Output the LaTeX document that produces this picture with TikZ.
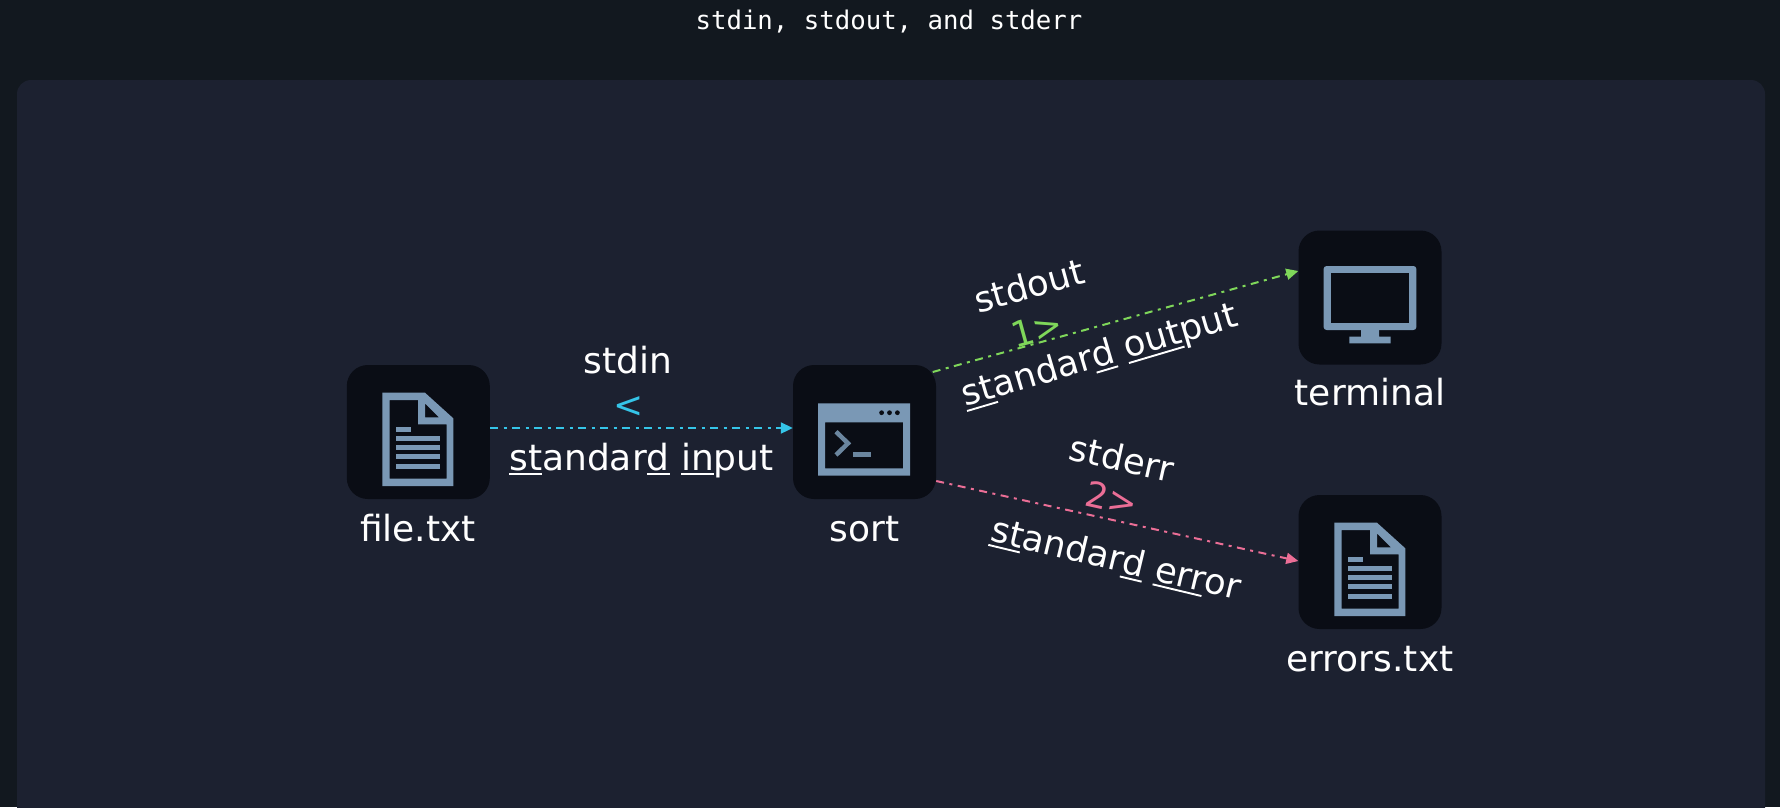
\documentclass[tikz,border=0pt]{standalone}
\usepackage{fontspec}
\setmainfont{DejaVu Sans}
\setmonofont{DejaVu Sans Mono}
\usetikzlibrary{arrows.meta,calc}
\definecolor{pagebg}{HTML}{12181F}
\definecolor{panelbg}{HTML}{1C2130}
\definecolor{boxbg}{HTML}{0A0D15}
\definecolor{iconc}{HTML}{7A98B5}
\definecolor{inc}{HTML}{35C5E8}
\definecolor{outc}{HTML}{7FD75A}
\definecolor{errc}{HTML}{EB6E96}
\newcommand\ulp[1]{\setbox0\hbox{#1}\rlap{\rule[-5.2pt]{\wd0}{1.9pt}}\box0\relax}
\newcommand\fileicon{%
  \fill[iconc,even odd rule] (382.3,392.7) -- (425,392.7) -- (453.3,418.3) -- (453.3,486) -- (382.3,486) -- cycle
    (389.5,400) -- (418,400) -- (418,424.3) -- (446.7,424.3) -- (446.7,478.7) -- (389.5,478.7) -- cycle
    (425,403.3) -- (439,417.3) -- (425,417.3) -- cycle;
  \fill[iconc] (396,426.7) rectangle (411,431.7);
  \foreach \yy in {438.5,447.7,456.8,466.2} \fill[iconc] (396,\yy-2.45) rectangle (440,\yy+2.45);
}
\tikzset{
  iconbox/.style={fill=boxbg,rounded corners=21pt,minimum width=143pt,minimum height=134pt,inner sep=0pt,draw=none},
  lbl/.style={text=white,font=\fontsize{36}{36}\selectfont,inner sep=0pt},
  rlbl/.style={text=white,font=\fontsize{35.4}{36}\selectfont,inner sep=0pt},
  flow/.style={line width=2pt,dash pattern=on 8pt off 5.5pt on 3pt off 5.5pt,-{Triangle[length=12pt,width=11pt]}},
}
\begin{document}
\begin{tikzpicture}[x=1pt,y=-1pt]
\useasboundingbox (0,0) rectangle (1780,807);
\clip (0,0) rectangle (1780,807);
\fill[pagebg] (0,0) rectangle (1780,807);
\fill[panelbg,rounded corners=14pt] (17,80) rectangle (1765,860);
\node[text=white,font=\ttfamily\fontsize{25.7}{26}\selectfont,inner sep=0pt,anchor=base] (title) at (889,29) {stdin, stdout, and stderr};

\node[iconbox] (file) at (418.3,432) {};
\node[iconbox] (sort) at (864.5,432) {};
\node[iconbox] (terminal) at (1370,297.5) {};
\node[iconbox] (errors) at (1370,562) {};

\fileicon
\begin{scope}[shift={(952,130)}]\fileicon\end{scope}

% terminal window icon
\fill[iconc,even odd rule] (818,403.3) rectangle (910,475.7) (825,422.3) rectangle (903,468.3);
\foreach \xx in {881.6,889.5,897.4} \fill[boxbg] (\xx,412.7) circle (2.4pt);
\draw[iconc!88!black,line width=4.5pt] (836,431.7) -- (848,443.3) -- (836,455);
\fill[iconc!88!black] (852.7,452) rectangle (871,456.6);

% monitor icon
\fill[iconc,rounded corners=3pt] (1323.6,266) rectangle (1416.4,330);
\fill[boxbg] (1331.4,273.3) rectangle (1409.3,323.3);
\fill[iconc] (1361,330) rectangle (1379,337) (1349.3,336.7) rectangle (1390.7,343.3);

\node[lbl,anchor=base] (filelbl) at (418,541) {file.txt};
\node[lbl,anchor=base] (sortlbl) at (864.5,541) {sort};
\node[lbl,anchor=base] (termlbl) at (1370,405) {terminal};
\node[lbl,anchor=base] (errlbl) at (1370,671) {errors.txt};

\draw[flow,inc] ([yshift=4pt]file.east) -- ([yshift=4pt]sort.west);
\draw[flow,outc] ([xshift=-3.5pt,yshift=60pt]sort.east) -- ([yshift=26.5pt]terminal.west);
\draw[flow,errc] ([yshift=-49pt]sort.east) -- ([yshift=1pt]errors.west);

\node[lbl,anchor=base] (stdin) at (628,373) {stdin};
\node[lbl,text=inc] (inop) at (629,407) {<};
\node[lbl,anchor=base] (stdinlong) at (641.5,470) {\ulp{st}andar\ulp{d} \ulp{in}put};

\node[rlbl,rotate=15.4] (stdout) at (1029,285.5) {stdout};
\node[rlbl,text=outc,rotate=15.4] (outop) at (1037,329) {1>};
\node[rlbl,rotate=16.5] (stdoutlong) at (1100,357) {\ulp{st}andar\ulp{d} \ulp{out}put};

\node[rlbl,rotate=-12.5] (stderr) at (1122,458) {stderr};
\node[rlbl,text=errc,rotate=-12.5] (errop) at (1112,498) {2>};
\node[rlbl,rotate=-13.5] (stderrlong) at (1116,560) {\ulp{st}andar\ulp{d} \ulp{err}or};
\end{tikzpicture}
\end{document}
